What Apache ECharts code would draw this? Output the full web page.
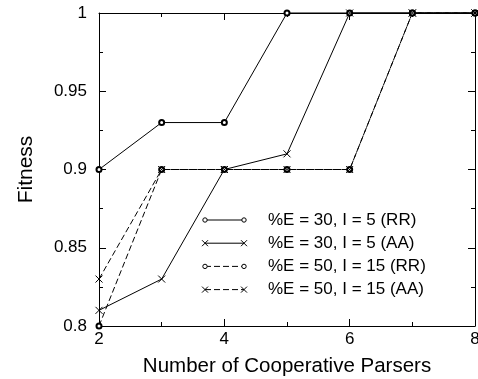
<!DOCTYPE html>
<html>
<head>
<meta charset="utf-8">
<script src="https://cdn.jsdelivr.net/npm/echarts@6/dist/echarts.min.js"></script>
<style>
  html, body { margin: 0; padding: 0; background: #fff; }
  #chart { width: 478px; height: 379px; }
</style>
</head>
<body>
<div id="chart"></div>
<script>
// 数据
var parsers = [2, 3, 4, 5, 6, 7, 8];
var seriesNames = ['%E = 30, I = 5 (RR)', '%E = 30, I = 5 (AA)', '%E = 50, I = 15 (RR)', '%E = 50, I = 15 (AA)'];
var e30rr = [0.90, 0.93, 0.93, 1.00, 1.00, 1.00, 1.00];
var e30aa = [0.81, 0.83, 0.90, 0.91, 1.00, 1.00, 1.00];
var e50rr = [0.80, 0.90, 0.90, 0.90, 0.90, 1.00, 1.00];
var e50aa = [0.83, 0.90, 0.90, 0.90, 0.90, 1.00, 1.00];
var seriesValues = [e30rr, e30aa, e50rr, e50aa];
var seriesMarks = ['circle', 'cross', 'circle', 'cross'];
var seriesDashed = [false, false, true, true];

var FONT = 'Liberation Sans';
var CROSS = 'path://M0,0L10,10M10,0L0,10';
var DASH = [6, 3];

function pairs(vals) {
    return parsers.map(function (x, i) { return [x, vals[i]]; });
}

var series = seriesValues.map(function (vals, i) {
    var isCircle = seriesMarks[i] === 'circle';
    return {
        name: seriesNames[i],
        type: 'line',
        data: pairs(vals),
        clip: false,
        symbol: isCircle ? 'emptyCircle' : CROSS,
        symbolSize: isCircle ? 5 : 7,
        showAllSymbol: true,
        itemStyle: { color: '#000', borderColor: '#000', borderWidth: 1 },
        lineStyle: { color: '#000', width: 1, type: seriesDashed[i] ? DASH : 'solid' },
        emphasis: { disabled: true },
        animation: false
    };
});

// 图例（手绘，两端带标记）
var legendX1 = 205, legendX2 = 244, legendTextX = 268, legendY0 = 220, legendStep = 23.2;
var legendEls = [];
seriesNames.forEach(function (name, i) {
    var y = legendY0 + i * legendStep;
    legendEls.push({
        type: 'line', shape: { x1: legendX1, y1: y, x2: legendX2, y2: y },
        style: { stroke: '#000', lineWidth: 1, lineDash: seriesDashed[i] ? DASH : null }
    });
    [legendX1, legendX2].forEach(function (x) {
        if (seriesMarks[i] === 'circle') {
            legendEls.push({ type: 'circle', shape: { cx: x, cy: y, r: 2.2 }, style: { fill: '#fff', stroke: '#000', lineWidth: 1 } });
        } else {
            legendEls.push({ type: 'line', shape: { x1: x - 3, y1: y - 3, x2: x + 3, y2: y + 3 }, style: { stroke: '#000', lineWidth: 1 } });
            legendEls.push({ type: 'line', shape: { x1: x - 3, y1: y + 3, x2: x + 3, y2: y - 3 }, style: { stroke: '#000', lineWidth: 1 } });
        }
    });
    legendEls.push({
        type: 'text', x: legendTextX, y: y,
        style: { text: name, fill: '#000', font: '17px "' + FONT + '"', verticalAlign: 'middle', align: 'left' }
    });
});

var axisLineStyle = { show: true, lineStyle: { color: '#000', width: 1 } };
var chart = echarts.init(document.getElementById('chart'));
chart.setOption({
    backgroundColor: '#fff',
    animation: false,
    grid: { left: 99, right: 3, top: 13, bottom: 53, containLabel: false, outerBoundsMode: 'none' },
    xAxis: [{
        type: 'value', min: 2, max: 8, interval: 2,
        name: 'Number of Cooperative Parsers', nameLocation: 'middle', nameGap: 30,
        nameTextStyle: { fontFamily: FONT, fontSize: 20.5, color: '#000' },
        axisLine: axisLineStyle,
        axisTick: { inside: true, length: 7, lineStyle: { color: '#000' } },
        minorTick: { show: true, splitNumber: 2, length: 4, lineStyle: { color: '#000' } },
        axisLabel: { fontFamily: FONT, fontSize: 17, color: '#000', margin: 5, hideOverlap: false },
        splitLine: { show: false }
    }, {
        type: 'value', min: 2, max: 8, interval: 2, position: 'top',
        axisLine: axisLineStyle,
        axisTick: { inside: true, length: 7, lineStyle: { color: '#000' } },
        minorTick: { show: true, splitNumber: 2, length: 4, lineStyle: { color: '#000' } },
        axisLabel: { show: false }, splitLine: { show: false }
    }],
    yAxis: [{
        type: 'value', min: 0.8, max: 1, interval: 0.05,
        name: 'Fitness', nameLocation: 'middle', nameGap: 62,
        nameTextStyle: { fontFamily: FONT, fontSize: 21, color: '#000' },
        axisLine: axisLineStyle,
        axisTick: { inside: true, length: 7, lineStyle: { color: '#000' } },
        minorTick: { show: true, splitNumber: 2, length: 4, lineStyle: { color: '#000' } },
        axisLabel: { fontFamily: FONT, fontSize: 17, color: '#000', margin: 12 },
        splitLine: { show: false }
    }, {
        type: 'value', min: 0.8, max: 1, interval: 0.05, position: 'right',
        axisLine: axisLineStyle,
        axisTick: { inside: true, length: 7, lineStyle: { color: '#000' } },
        minorTick: { show: true, splitNumber: 2, length: 4, lineStyle: { color: '#000' } },
        axisLabel: { show: false }, splitLine: { show: false }
    }],
    series: series,
    graphic: legendEls
});
</script>
</body>
</html>
